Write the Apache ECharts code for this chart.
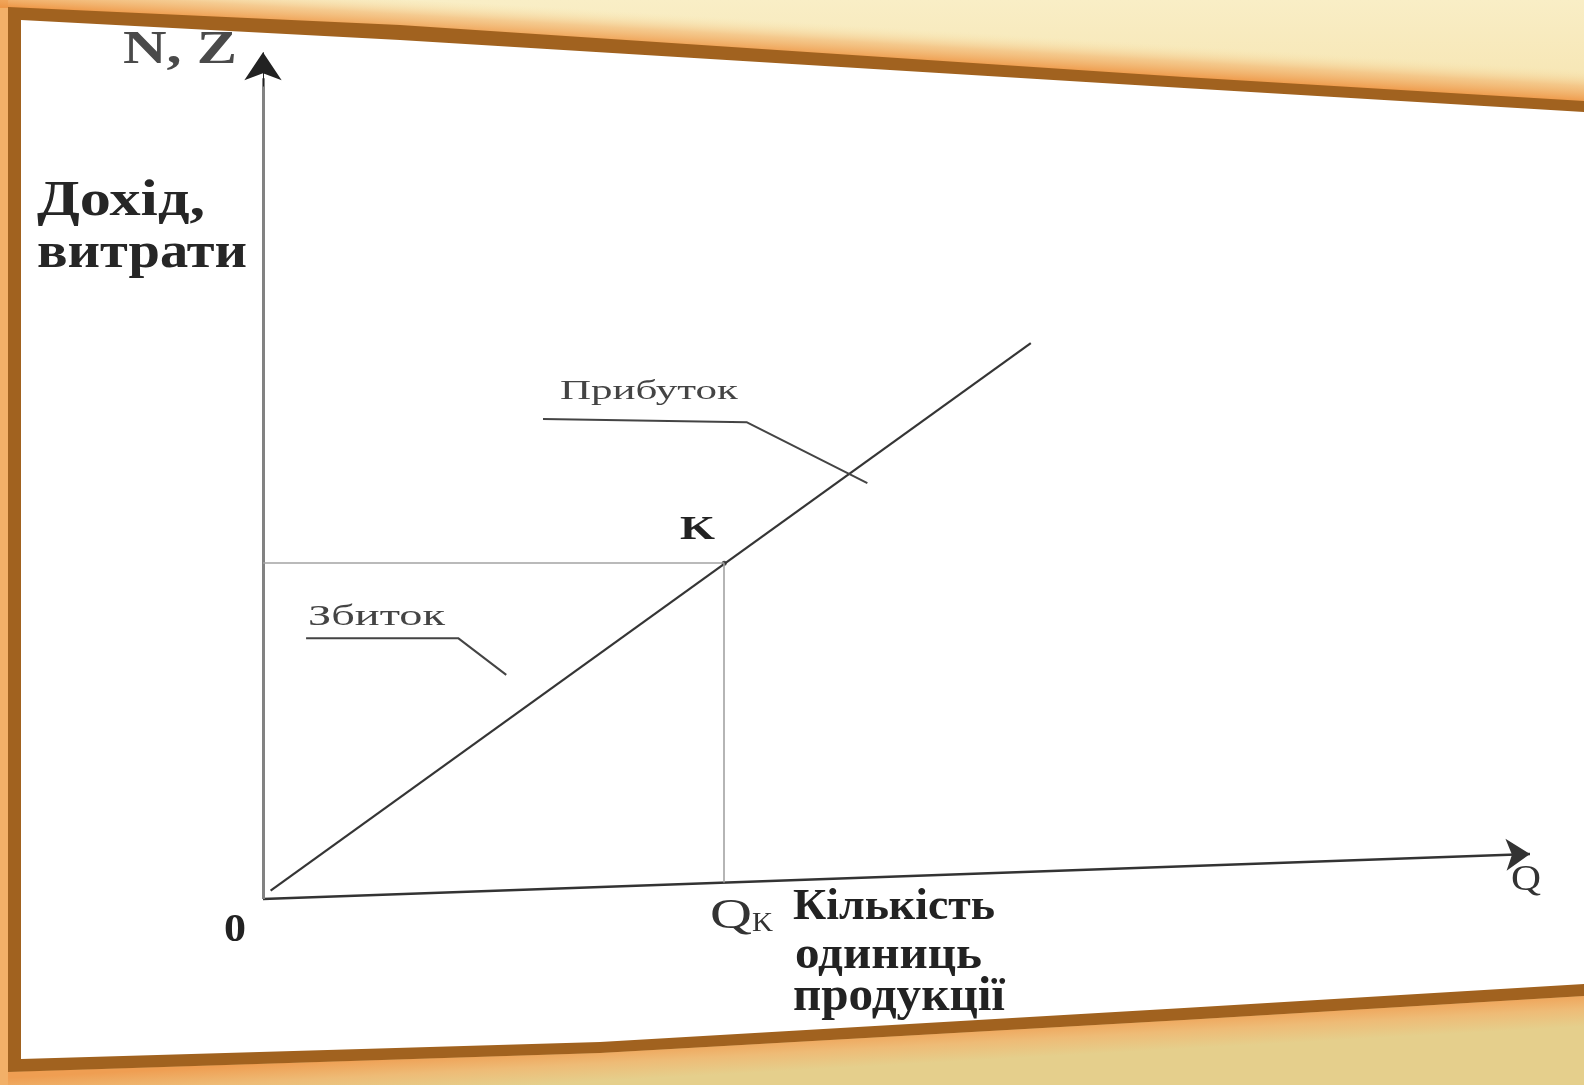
<!DOCTYPE html>
<html>
<head>
<meta charset="utf-8">
<title>Точка беззбитковості</title>
<script src="https://cdn.jsdelivr.net/npm/echarts@6/dist/echarts.min.js"></script>
<style>
	html, body { margin: 0; padding: 0; background: #fff; }
	#main { width: 1584px; height: 1085px; }
</style>
</head>
<body>
<div id="main"></div>
<script>
// дані графіка (Q — кількість, N/Z — дохід, витрати)
var revenueLine = [[0.6, 1.0], [60.6, 66.7]];
var breakEven = [36.4, 40.3];
var qAxisEnd = [100, 5.4];
var nAxisEnd = [0, 101.6];
var lossLeader = [[3.4, 31.3], [15.4, 31.3], [19.2, 26.9]];
var profitLeader = [[22.1, 57.6], [38.2, 57.2], [47.7, 49.9]];

var yTitle = ['Дохід,', 'витрати'];
var xTitle = ['Кількість', 'одиниць', 'продукції'];

var measure = document.createElement('canvas').getContext('2d');
var serif = '"Liberation Serif", "Times New Roman", serif';

// текст, розтягнутий по ширині як на слайді
function fitText(txt, x, baseline, width, size, weight, color) {
	measure.font = weight + ' ' + size + 'px ' + serif;
	var w = measure.measureText(txt).width;
	return {
		type: 'text',
		x: x,
		y: baseline - size * 0.34,
		scaleX: width / w,
		z: 50,
		style: {
			text: txt,
			fontFamily: serif,
			fontSize: size,
			fontWeight: weight,
			fill: color,
			align: 'left',
			verticalAlign: 'middle'
		}
	};
}

var myChart = echarts.init(document.getElementById('main'));

var bg = [
	// верх слайду
	{
		type: 'polygon', z: -20,
		shape: { points: [[0, 0], [1584, 0], [1584, 102], [1184, 78], [400, 26], [8, 8], [0, 8]] },
		style: { fill: new echarts.graphic.LinearGradient(0, 0, 0, 1, [
			{ offset: 0, color: '#f9eec6' }, { offset: 1, color: '#f6e4b0' }
		]) }
	},
	{
		type: 'polygon', z: -19,
		shape: { points: [[0, 8], [8, 8], [400, 26], [1184, 78], [1584, 102], [1584, 55], [1184, 35], [400, 0], [0, 0]] },
		style: { fill: new echarts.graphic.LinearGradient(800, 55, 802, 22, [
			{ offset: 0, color: '#ee9848' }, { offset: 0.5, color: 'rgba(242,180,110,0.6)' }, { offset: 1, color: 'rgba(247,228,172,0)' }
		], true) }
	},
	// низ слайду
	{
		type: 'polygon', z: -20,
		shape: { points: [[0, 1072], [600, 1053], [1184, 1020], [1584, 996], [1584, 1085], [0, 1085]] },
		style: { fill: new echarts.graphic.LinearGradient(800, 1034, 802, 1070, [
			{ offset: 0, color: '#ef9e52' }, { offset: 0.5, color: '#eebb76' }, { offset: 1, color: '#e5cf8c' }
		], true) }
	},
	{
		type: 'rect', z: -20,
		shape: { x: 0, y: 0, width: 8, height: 1085 },
		style: { fill: '#f2b068' }
	},
	// рамка
	{
		type: 'polygon', z: -15,
		shape: { points: [[8, 7], [400, 25], [1184, 77], [1584, 101], [1584, 996], [1184, 1020], [600, 1053], [8, 1072]] },
		style: { fill: '#a1621f' }
	},
	{
		type: 'polygon', z: -14,
		shape: { points: [[21, 20], [400, 40], [1184, 88], [1584, 112], [1584, 984], [1184, 1008], [600, 1042], [21, 1059]] },
		style: { fill: '#ffffff' }
	}
];

var texts = [
	fitText('N, Z', 123, 67, 114, 46, 'bold', '#4a4a4a'),
	fitText(yTitle[0], 37, 219, 168, 50, 'bold', '#262626'),
	fitText(yTitle[1], 37, 271, 210, 50, 'bold', '#262626'),
	fitText('Прибуток', 560, 401, 178, 28, 'normal', '#444444'),
	fitText('Збиток', 308, 627, 137, 29, 'normal', '#444444'),
	fitText('K', 680, 542, 35, 33, 'bold', '#222222'),
	fitText('0', 224, 944, 22, 40, 'bold', '#222222'),
	fitText('Q', 1511, 893, 30, 36, 'normal', '#333333'),
	fitText('Q', 710, 931, 42, 42, 'normal', '#333333'),
	fitText('K', 752, 933, 21, 28, 'normal', '#333333'),
	fitText(xTitle[0], 793, 923, 202, 44, 'bold', '#222222'),
	fitText(xTitle[1], 795, 972, 187, 46, 'bold', '#222222'),
	fitText(xTitle[2], 793, 1014, 212, 48, 'bold', '#222222')
];

var option = {
	animation: false,
	backgroundColor: '#f3c98a',
	grid: {
		left: 263,
		right: 54,
		top: 49,
		bottom: 186
	},
	xAxis: {
		type: 'value',
		min: 0,
		max: 100,
		axisLine: { show: false },
		axisTick: { show: false },
		axisLabel: { show: false },
		splitLine: { show: false }
	},
	yAxis: {
		type: 'value',
		min: 0,
		max: 102,
		axisLine: { show: false },
		axisTick: { show: false },
		axisLabel: { show: false },
		splitLine: { show: false }
	},
	graphic: bg.concat(texts),
	series: [{
			name: 'N = Z',
			type: 'line',
			data: revenueLine,
			showSymbol: false,
			lineStyle: { color: '#353535', width: 2.2 },
			markLine: {
				silent: true,
				label: { show: false },
				symbol: ['none', 'arrow'],
				symbolSize: 24,
				lineStyle: { color: '#333333', width: 2.5, type: 'solid' },
				data: [
					// вісь Q
					[{ coord: [0, 0] }, { coord: qAxisEnd }],
					// вісь N, Z
					[{ coord: [0, 0], lineStyle: { color: '#828282', width: 3 } }, { coord: [0, 98.5], symbol: 'none' }],
					[{ coord: [0, 97.5] }, { coord: nAxisEnd, symbolSize: 28, lineStyle: { color: '#222222', width: 1 } }]
				]
			}
		},
		{
			name: 'Збиток',
			type: 'line',
			data: lossLeader,
			showSymbol: false,
			lineStyle: { color: '#444444', width: 2 }
		},
		{
			name: 'Прибуток',
			type: 'line',
			data: profitLeader,
			showSymbol: false,
			lineStyle: { color: '#444444', width: 2 }
		},
		{
			name: 'K',
			type: 'scatter',
			data: [breakEven],
			symbolSize: 5,
			itemStyle: { color: '#222222' },
			markLine: {
				silent: true,
				label: { show: false },
				symbol: ['none', 'none'],
				lineStyle: { color: '#a3a3a3', width: 1.6, type: 'solid' },
				data: [
					[{ coord: [0, breakEven[1]] }, { coord: breakEven }],
					[{ coord: breakEven }, { coord: [breakEven[0], qAxisEnd[1] * breakEven[0] / qAxisEnd[0]] }]
				]
			}
		}
	]
};
myChart.setOption(option);
</script>
</body>
</html>
